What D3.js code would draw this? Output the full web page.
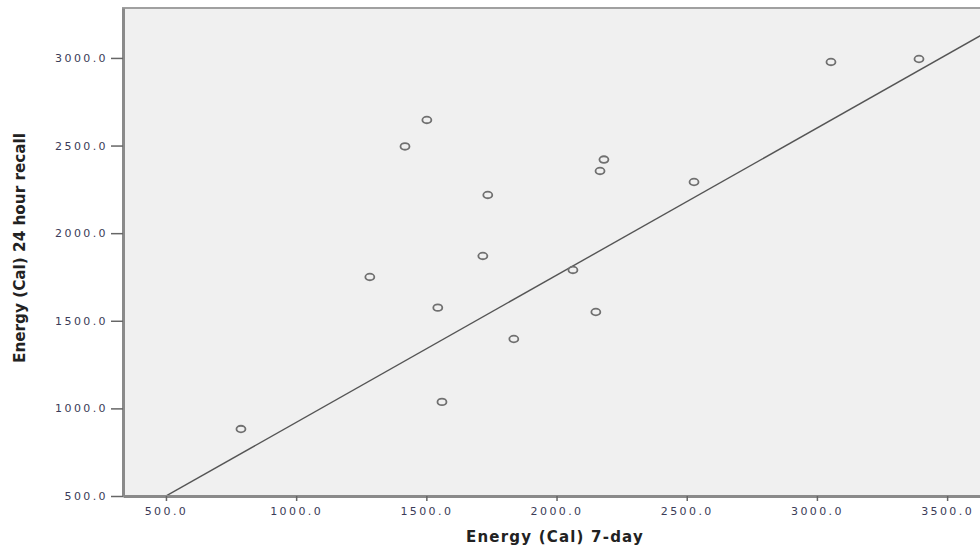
<!DOCTYPE html>
<html>
<head>
<meta charset="utf-8">
<script src="https://cdn.jsdelivr.net/npm/d3@7"></script>
<style>
  body { margin: 0; background: #fff; }
  svg { display: block; }
  .tick text { font-family: "DejaVu Sans", sans-serif; font-size: 11px; fill: #3b3b58; letter-spacing: 2.4px; }
  .axis-title { font-family: "DejaVu Sans", sans-serif; font-weight: bold; fill: #222; }
</style>
</head>
<body>
<svg id="chart" width="980" height="549"></svg>
<script>
// 7-day record vs 24 hour recall, energy in Cal
let sevenDay = [788, 1283, 1418, 1502, 1544, 1560, 1717, 1736, 1836, 2063, 2151, 2167, 2182, 2528, 3054, 3392];
let recall24 = [882, 1750, 2495, 2646, 1575, 1037, 1870, 2218, 1396, 1790, 1550, 2355, 2420, 2292, 2977, 2994];

let xTicks = [500, 1000, 1500, 2000, 2500, 3000, 3500];
let yTicks = [500, 1000, 1500, 2000, 2500, 3000];

// fit line: recall = a + b * sevenDay
let fitIntercept = 80;
let fitSlope = 0.84;

let svg = d3.select('#chart');

// plot edges (right edge runs off the page, as in the original)
let plotL = 123, plotT = 8, plotB = 496, plotR = 982;

let x = d3.scaleLinear()
    .domain([335, 3634])
    .range([plotL, plotR]);

let y = d3.scaleLinear()
    .domain([500, 3285])
    .range([plotB, plotT]);

// plot background + top border
svg.append('rect')
    .attr('x', plotL).attr('y', plotT)
    .attr('width', plotR - plotL).attr('height', plotB - plotT)
    .attr('fill', '#f0f0f0')
    .attr('stroke', '#a0a0a0')
    .attr('stroke-width', 2);

svg.append('clipPath').attr('id', 'plot')
  .append('rect')
    .attr('x', plotL).attr('y', plotT)
    .attr('width', plotR - plotL).attr('height', plotB - plotT);

// regression line
let xd = x.domain();
svg.append('line')
    .attr('clip-path', 'url(#plot)')
    .attr('x1', x(xd[0])).attr('y1', y(fitIntercept + fitSlope * xd[0]))
    .attr('x2', x(xd[1])).attr('y2', y(fitIntercept + fitSlope * xd[1]))
    .attr('stroke', '#555')
    .attr('stroke-width', 1.4);

// points
svg.append('g')
  .selectAll('ellipse')
  .data(sevenDay.map((d, i) => [d, recall24[i]]))
  .join('ellipse')
    .attr('cx', d => x(d[0]))
    .attr('cy', d => y(d[1]))
    .attr('rx', 4.5)
    .attr('ry', 3.3)
    .attr('fill', 'none')
    .attr('stroke', '#707070')
    .attr('stroke-width', 1.8);

// axes
let xAxis = d3.axisBottom(x)
    .tickValues(xTicks)
    .tickSize(5)
    .tickSizeOuter(0)
    .tickPadding(6)
    .tickFormat(d3.format('.1f'));

let yAxis = d3.axisLeft(y)
    .tickValues(yTicks)
    .tickSize(12)
    .tickSizeOuter(0)
    .tickPadding(3)
    .tickFormat(d3.format('.1f'));

let gx = svg.append('g')
    .attr('transform', `translate(0,${plotB})`)
    .call(xAxis);

let gy = svg.append('g')
    .attr('transform', `translate(${plotL},0)`)
    .call(yAxis);

[gx, gy].forEach(g => {
  g.select('.domain').attr('stroke', '#8a8a8a').attr('stroke-width', 3);
  g.selectAll('.tick line').attr('stroke', '#666').attr('stroke-width', 1.5);
});

// axis titles
svg.append('text')
    .attr('class', 'axis-title')
    .attr('x', 555).attr('y', 542)
    .attr('text-anchor', 'middle')
    .attr('font-size', 15)
    .attr('letter-spacing', 1.2)
    .text('Energy (Cal) 7-day');

svg.append('text')
    .attr('class', 'axis-title')
    .attr('transform', 'translate(25,248) rotate(-90)')
    .attr('text-anchor', 'middle')
    .attr('font-size', 16)
    .attr('textLength', 230)
    .attr('lengthAdjust', 'spacingAndGlyphs')
    .text('Energy (Cal) 24 hour recall');
</script>
</body>
</html>
